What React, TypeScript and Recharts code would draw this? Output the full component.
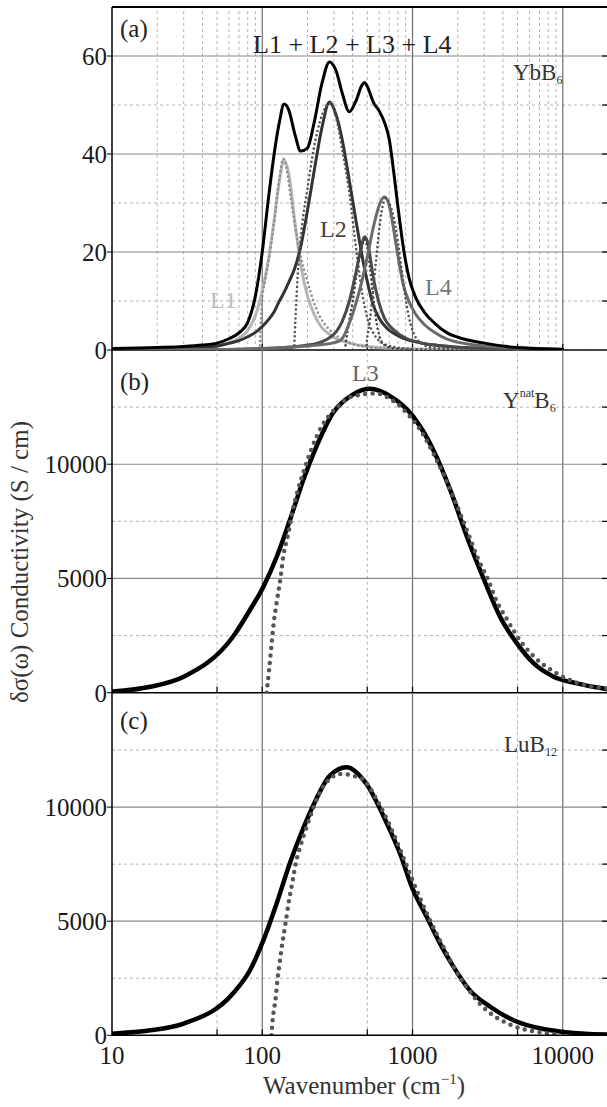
import React from "react";
import { LineChart, Line, XAxis, YAxis, ReferenceLine } from "recharts";

const FONT = "'Liberation Serif', 'Times New Roman', serif";

// (a) YbB6: solid curves share one wavenumber grid (cm-1)
const gridA = [10, 20, 30, 40, 50, 60, 70, 80, 90, 100, 110, 120, 130, 140, 150, 165, 180, 200, 220, 250, 280, 310, 340, 380, 420, 460, 480, 500, 550, 600, 650, 700, 750, 800, 870, 950, 1050, 1200, 1400, 1700, 2000, 3000, 5000, 10000];
const sumA = [0.3, 0.5, 0.7, 1.0, 1.4, 2.3, 3.5, 5.6, 11, 20, 31, 40, 46.5, 50.2, 49, 44, 40.6, 41.2, 46, 54.5, 58.8, 57, 52.5, 48.6, 50.8, 54, 54.6, 53.8, 50.5, 48.8, 46.5, 43, 36.3, 29.2, 20.8, 14.6, 10.7, 7.7, 5.5, 3.5, 2.6, 1.4, 0.5, 0.15];
const l1A = [0.1, 0.2, 0.3, 0.5, 0.8, 1.4, 2.4, 4, 7, 12, 18.5, 26.5, 34.5, 38.8, 36, 26, 17.5, 11, 7.5, 4.5, 3.2, 2.3, 1.8, 1.4, 1.1, 0.9, 0.82, 0.75, 0.6, 0.5, 0.45, 0.4, 0.35, 0.3, 0.27, 0.24, 0.2, 0.17, 0.14, 0.11, 0.09, 0.06, 0.03, 0.01];
const l2A = [0.1, 0.25, 0.4, 0.6, 0.8, 1.35, 1.9, 2.7, 3.6, 4.8, 6.2, 7.8, 10, 11.8, 13.8, 16.8, 21, 28.5, 36, 45.5, 50.6, 48, 43, 34.5, 26.5, 19.5, 16.5, 14, 9, 6.5, 5, 4, 3.4, 2.9, 2.4, 2, 1.7, 1.3, 1.0, 0.75, 0.55, 0.35, 0.2, 0.08];
const l3A = [0.02, 0.03, 0.05, 0.07, 0.1, 0.12, 0.15, 0.2, 0.25, 0.3, 0.35, 0.4, 0.45, 0.5, 0.6, 0.7, 0.8, 1.0, 1.2, 1.7, 2.5, 3.7, 5.8, 10, 15.8, 21.5, 23.1, 22.2, 14.6, 9.5, 6.5, 5, 4.1, 3.4, 2.7, 2.1, 1.7, 1.3, 1.0, 0.75, 0.55, 0.3, 0.15, 0.05];
const l4A = [0.02, 0.03, 0.05, 0.07, 0.1, 0.12, 0.15, 0.2, 0.25, 0.3, 0.33, 0.36, 0.4, 0.45, 0.5, 0.6, 0.7, 0.8, 0.95, 1.1, 1.3, 1.6, 2.3, 5.5, 9.5, 14, 16.5, 19, 25.2, 29.5, 31.2, 29.5, 24.5, 19.2, 13.2, 9.8, 7.3, 5.2, 3.6, 2.2, 1.6, 0.8, 0.4, 0.1];

// (a) dotted model curves, each on its own grid
const l1dX = [96, 97, 98, 100, 105, 110, 120, 130, 138, 146, 155, 165, 178, 200, 218, 240, 268, 300, 331, 400, 500, 700, 1000, 2000, 5000];
const l1dY = [0, 3, 6, 10.5, 14.5, 18, 26, 35, 39, 36.5, 31, 25.5, 19.8, 14, 10.2, 7, 4.8, 3.3, 2.4, 1.2, 0.6, 0.2, 0.08, 0.02, 0];
const l2dX = [163, 165, 168, 172, 178, 185, 200, 220, 250, 280, 310, 340, 380, 420, 460, 500, 560, 650, 800, 1000, 1500, 3000];
const l2dY = [0, 4, 9, 15, 21, 26, 33, 41, 48, 50.3, 47.5, 41, 32, 21, 12, 6.5, 3, 1.2, 0.5, 0.2, 0.05, 0];
const l3dX = [355, 370, 400, 430, 450, 480, 500, 520, 545, 570, 600, 650, 750, 1000];
const l3dY = [0, 4, 10, 16.5, 19.5, 22.5, 21, 17, 11.5, 6.5, 3, 1, 0.3, 0];
const l4dX = [490, 500, 520, 546, 575, 608, 640, 665, 700, 750, 800, 850, 900, 950, 1000, 1100, 1300, 2000, 3000, 10000, 20000];
const l4dY = [0, 2.5, 6, 12, 19, 26, 30, 31, 30, 27, 22, 16, 10.5, 6.5, 4, 1.8, 0.6, 0.1, 0, 0, 0];

// (b) YnatB6
const bSolidX = [10, 18, 30, 64, 83, 102, 125, 153, 188, 230, 296, 403, 522, 710, 1006, 1370, 1780, 2300, 2960, 3820, 4940, 6390, 8700, 12400, 20000];
const bSolidY = [50, 260, 700, 2460, 3630, 4650, 5960, 7570, 9330, 10790, 12250, 13060, 13300, 12980, 12100, 10650, 8890, 6840, 5020, 3330, 2170, 1290, 700, 410, 150];
const bDotX = [107, 111, 115, 119, 125, 132, 138, 149, 159, 173, 192, 215, 248, 311, 394, 564, 762, 958, 1152, 1370, 1600, 1830, 2100, 2400, 2730, 3170, 3600, 4270, 5200, 6600, 8700, 11900, 16500, 20000];
const bDotY = [0, 990, 2020, 3010, 4000, 4970, 5960, 6960, 7930, 8890, 9840, 10750, 11640, 12470, 12960, 13100, 12720, 12100, 11400, 10500, 9590, 8710, 7760, 6800, 5860, 4970, 4060, 3190, 2280, 1510, 920, 480, 240, 170];

// (c) LuB12
const cSolidX = [10, 18, 30, 64, 83, 102, 125, 153, 178, 218, 282, 364, 494, 670, 822, 1006, 1240, 1520, 1870, 2400, 3290, 4700, 7150, 10000, 20000];
const cSolidY = [70, 220, 515, 1840, 2860, 4180, 5800, 7560, 8700, 10060, 11380, 11750, 11010, 9330, 8000, 6390, 5210, 4040, 3010, 1980, 1250, 660, 295, 150, 30];
const cDotX = [115, 118, 122.6, 126, 131, 136, 142, 151, 160, 167, 178, 195, 214, 236, 248, 331, 449, 608, 742, 890, 1060, 1300, 1640, 2050, 2460, 2860, 3440, 4220, 5300, 6850, 8900];
const cDotY = [0, 840, 1600, 2390, 3250, 4040, 4800, 5950, 6830, 7530, 8220, 9030, 9790, 10500, 10790, 11450, 11280, 10060, 8880, 7630, 6390, 5070, 3750, 2570, 1840, 1320, 880, 540, 295, 145, 40];

const xMajor = [100, 1000, 10000];
const xMinorA = [20, 30, 40, 50, 60, 70, 80, 90, 200, 300, 400, 500, 600, 700, 800, 900, 2000, 3000, 4000, 5000, 6000, 7000, 8000, 9000];
const xMinorBC = [50, 500, 5000];
const xTickLabels = [10, 100, 1000, 10000];

const zip = (xs: number[], ys: number[]) => xs.map((x, i) => ({ x, y: ys[i] }));

type S = { data: { x: number; y: number }[]; color: string; w: number; dash?: string };

const seriesA: S[] = [
  { data: zip(gridA, l1A), color: "#b5b5b5", w: 3 },
  { data: zip(l1dX, l1dY), color: "#8f8f8f", w: 2.6, dash: "0 4.5" },
  { data: zip(gridA, l2A), color: "#333", w: 3 },
  { data: zip(l2dX, l2dY), color: "#555", w: 2.6, dash: "0 4.5" },
  { data: zip(gridA, l3A), color: "#4a4a4a", w: 3 },
  { data: zip(l3dX, l3dY), color: "#444", w: 2.6, dash: "0 4.5" },
  { data: zip(gridA, l4A), color: "#6a6a6a", w: 3 },
  { data: zip(l4dX, l4dY), color: "#555", w: 2.6, dash: "0 4.5" },
  { data: zip(gridA, sumA), color: "#000", w: 3 },
];
const seriesB: S[] = [
  { data: zip(bSolidX, bSolidY), color: "#000", w: 4.5 },
  { data: zip(bDotX, bDotY), color: "#555", w: 4.5, dash: "0 7.5" },
];
const seriesC: S[] = [
  { data: zip(cSolidX, cSolidY), color: "#000", w: 4.5 },
  { data: zip(cDotX, cDotY), color: "#555", w: 4.5, dash: "0 7.5" },
];

const tickStyle = { fontSize: 25, fill: "#1a1a1a", fontFamily: FONT };

function Panel(props: {
  top: number; height: number; mTop: number; mBottom: number;
  yMax: number; yTicks: number[]; yMinor: number[]; xMinor: number[];
  series: S[]; bottomAxis?: boolean; topBorder?: boolean;
}) {
  const { top, height, mTop, mBottom, yMax, yTicks, yMinor, xMinor, series, bottomAxis, topBorder } = props;
  const tickLen = yMax * 6 / 343;
  const allY = [...yTicks.filter((t) => t > 0), ...yMinor];
  return (
    <div style={{ position: "absolute", left: 0, top }}>
      <LineChart width={608} height={height} margin={{ top: mTop, right: 0, bottom: mBottom, left: 0 }}>
        <XAxis
          type="number" dataKey="x" scale="log" domain={[10, 20000]} allowDataOverflow
          hide={!bottomAxis} height={bottomAxis ? 72 : 0} interval={0}
          ticks={xTickLabels} tickFormatter={(v) => String(v)} tick={tickStyle}
          tickLine={false} tickSize={0} tickMargin={11}
          axisLine={{ stroke: "#000", strokeWidth: 1.5 }}
        />
        <YAxis
          type="number" domain={[0, yMax]} allowDataOverflow width={112} ticks={yTicks} interval={0}
          tick={tickStyle} tickSize={5} tickMargin={0}
          tickLine={{ stroke: "#000" }} axisLine={{ stroke: "#000", strokeWidth: 1.5 }}
        />
        {xMinor.map((v) => (
          <ReferenceLine key={"xm" + v} x={v} stroke="#b3b3b3" strokeDasharray="3 3" />
        ))}
        {yMinor.map((v) => (
          <ReferenceLine key={"ym" + v} y={v} stroke="#b3b3b3" strokeDasharray="3 3" />
        ))}
        {xMajor.map((v) => (
          <ReferenceLine key={"xM" + v} x={v} stroke="#6e6e6e" strokeWidth={1.2} />
        ))}
        {yTicks.filter((t) => t > 0).map((v) => (
          <ReferenceLine key={"yM" + v} y={v} stroke="#888" strokeWidth={1.2} />
        ))}
        {[50, 100, 500, 1000, 5000, 10000].map((v) => (
          <ReferenceLine key={"bt" + v} segment={[{ x: v, y: 0 }, { x: v, y: tickLen }]} stroke="#000" strokeWidth={1.2} />
        ))}
        {allY.map((v) => (
          <ReferenceLine key={"rt" + v} segment={[{ x: 18240, y: v }, { x: 20000, y: v }]} stroke="#000" strokeWidth={1.2} />
        ))}
        {!bottomAxis && <ReferenceLine y={0} stroke="#000" strokeWidth={1.5} />}
        {topBorder && <ReferenceLine y={yMax} stroke="#000" strokeWidth={2} />}
        {series.map((s, i) => (
          <Line
            key={i} data={s.data} dataKey="y" type="monotone" stroke={s.color} strokeWidth={s.w}
            strokeDasharray={s.dash} strokeLinecap="round" dot={false} activeDot={false}
            isAnimationActive={false}
          />
        ))}
      </LineChart>
    </div>
  );
}

export default function App() {
  return (
    <div style={{ position: "absolute", left: 0, top: 0, width: 607, height: 1107, overflow: "hidden", background: "#fff" }}>
      <Panel top={0} height={372} mTop={7} mBottom={22} yMax={70} yTicks={[0, 20, 40, 60]} yMinor={[10, 30, 50]} xMinor={xMinorA} series={seriesA} topBorder />
      <Panel top={340} height={372} mTop={10} mBottom={19.3} yMax={15000} yTicks={[0, 5000, 10000]} yMinor={[2500, 7500, 12500]} xMinor={xMinorBC} series={seriesB} />
      <Panel top={682.7} height={424.3} mTop={10} mBottom={0} yMax={15000} yTicks={[0, 5000, 10000]} yMinor={[2500, 7500, 12500]} xMinor={xMinorBC} series={seriesC} bottomAxis />
      <svg width={607} height={1107} style={{ position: "absolute", left: 0, top: 0, pointerEvents: "none" }} fontFamily={FONT} fill="#222">
        <text x={120} y={37} fontSize={25}>(a)</text>
        <text x={253} y={53} fontSize={26}>L1 + L2 + L3 + L4</text>
        <text x={513} y={80} fontSize={23} fill="#333">YbB<tspan fontSize={12} dy={4}>6</tspan></text>
        <text x={210} y={308} fontSize={24} fill="#bdbdbd">L1</text>
        <text x={320} y={237} fontSize={24} fill="#444">L2</text>
        <text x={425} y={295} fontSize={24} fill="#777">L4</text>
        <text x={352} y={381} fontSize={24} fill="#666">L3</text>
        <text x={120} y={390} fontSize={25}>(b)</text>
        <text x={503} y={408} fontSize={23} fill="#333">
          Y<tspan fontSize={12} dy={-11}>nat</tspan><tspan dy={11}>B</tspan><tspan fontSize={12} dy={4}>6</tspan>
        </text>
        <text x={120} y={729} fontSize={25}>(c)</text>
        <text x={504} y={752} fontSize={23} fill="#333">LuB<tspan fontSize={12} dy={4}>12</tspan></text>
        <text transform="translate(28,562) rotate(-90)" textAnchor="middle" fontSize={25} fill="#333">
          δσ(ω) Conductivity (S / cm)
        </text>
        <text x={263} y={1094} fontSize={25} fill="#333">
          Wavenumber (cm<tspan fontSize={15} dy={-10}>−1</tspan><tspan dy={10}>)</tspan>
        </text>
      </svg>
    </div>
  );
}
